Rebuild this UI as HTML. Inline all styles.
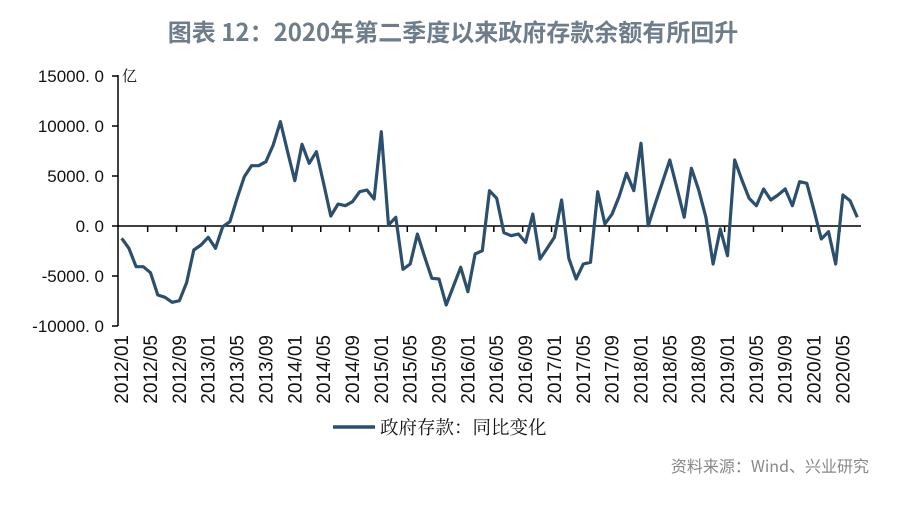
<!DOCTYPE html>
<html><head><meta charset="utf-8">
<style>
html,body{margin:0;padding:0;background:#fff;}
body{width:900px;height:501px;overflow:hidden;position:relative;font-family:"Liberation Sans","Noto Sans CJK SC",sans-serif;}
</style></head>
<body>
<svg id="chart" width="900" height="501" viewBox="0 0 900 501" xmlns="http://www.w3.org/2000/svg">
<text x="453" y="41" text-anchor="middle" font-size="24" font-weight="bold" fill="#6f7d8b" font-family="'Noto Sans CJK SC',sans-serif">图表 12：2020年第二季度以来政府存款余额有所回升</text>
<g id="axes"></g>
<g id="series"></g>
<line x1="333" y1="427" x2="375" y2="427" stroke="#2c4f6e" stroke-width="3.5"/>
<text x="380" y="434" font-size="18.5" fill="#111" font-family="'Noto Serif CJK SC',serif">政府存款：同比变化</text>
<text x="869" y="472" text-anchor="end" font-size="16" fill="#888" font-family="'Noto Sans CJK SC',sans-serif">资料来源：Wind、兴业研究</text>
<text x="122" y="81" font-size="15" fill="#111" font-family="'Noto Serif CJK SC',serif">亿</text>
</svg>
<script>
const values = [-1230,-2230,-4070,-4070,-4670,-6900,-7130,-7630,-7470,-5670,-2400,-1900,-1130,-2230,-70,430,2770,4930,6030,6030,6430,8100,10430,7430,4530,8170,6270,7430,4270,1000,2200,2030,2430,3430,3600,2700,9430,100,870,-4330,-3800,-800,-3070,-5230,-5300,-7900,-6000,-4130,-6570,-2800,-2470,3530,2770,-670,-970,-800,-1630,1200,-3300,-2230,-1130,2600,-3230,-5300,-3800,-3630,3430,200,1200,3000,5270,3530,8270,30,2270,4430,6600,3770,870,5770,3600,870,-3800,-300,-2970,6600,4600,2770,2030,3700,2600,3100,3700,2030,4430,4270,1530,-1300,-570,-3800,3100,2530,870];
const yTicks = [15000,10000,5000,0,-5000,-10000];
const yTickLabels = ["15000. 0","10000. 0","5000. 0","0. 0","-5000. 0","-10000. 0"];
const startYear = 2012, startMonth = 1, labelEvery = 4;

const NS="http://www.w3.org/2000/svg";
const x0=121.7, dx=7.212;
const xs=i=>x0+i*dx;
const ys=v=>226-v/100;
const axes=document.getElementById('axes');
function mk(tag,attrs,parent){const e=document.createElementNS(NS,tag);for(const k in attrs)e.setAttribute(k,attrs[k]);parent.appendChild(e);return e;}

const yAxis=mk('line',{x1:118,y1:75,x2:118,y2:326,stroke:'#000','stroke-width':1.5},axes);


yTicks.forEach((t,k)=>{
  const tk=mk('line',{x1:112,y1:ys(t),x2:118,y2:ys(t),stroke:'#000','stroke-width':1.5},axes);
  
  
  const lb=mk('text',{x:104,y:ys(t)+6,'text-anchor':'end','font-size':17,fill:'#111'},axes);
  lb.textContent=yTickLabels[k];
  
  
});
const xAxis=mk('line',{x1:118,y1:226,x2:861,y2:226,stroke:'#000','stroke-width':1.5},axes);


for(let i=0;i<values.length;i+=labelEvery){
  const m0=startMonth-1+i, yr=startYear+Math.floor(m0/12), mo=m0%12+1;
  const tx=xs(i+3.6);
  if(tx<862){
    const tk=mk('line',{x1:tx,y1:226,x2:tx,y2:232,stroke:'#000','stroke-width':1.5},axes);
    
    
  }
  const lx=xs(i)+6.5;
  const lb=mk('text',{x:0,y:0,'text-anchor':'end','font-size':19,fill:'#111',transform:`translate(${lx},335) rotate(-90)`},axes);
  lb.textContent=yr+'/'+String(mo).padStart(2,'0');
  
  
}
const series=document.getElementById('series');
const path=mk('polyline',{points:values.map((v,i)=>xs(i).toFixed(1)+','+ys(v).toFixed(1)).join(' '),fill:'none',stroke:'#2c4f6e','stroke-width':3.2,'stroke-linejoin':'round'},series);


</script>
</body></html>
